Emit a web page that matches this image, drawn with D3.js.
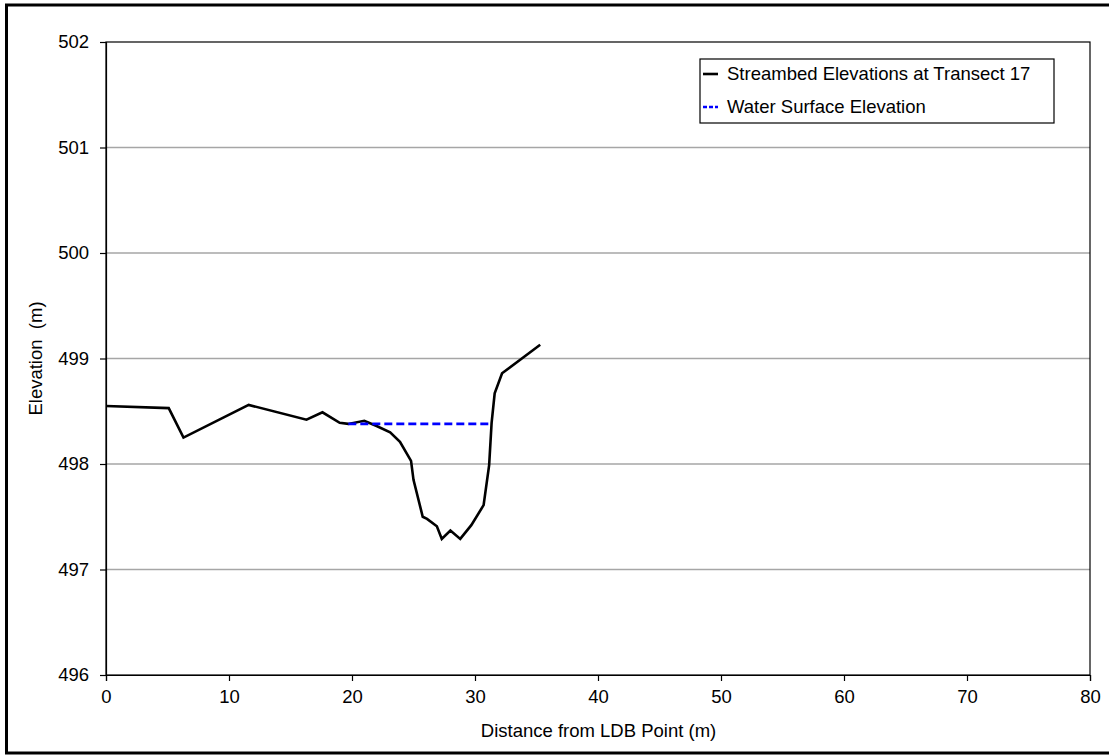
<!DOCTYPE html>
<html><head><meta charset="utf-8">
<script src="https://cdn.jsdelivr.net/npm/d3@7"></script>
<style>html,body{margin:0;padding:0;background:#fff;}svg{display:block;font-family:"Liberation Sans",Arial,sans-serif;}</style>
</head><body>
<svg id="chart" width="1109" height="755"></svg>
<script>
const distance = [0, 5.1, 6.3, 11.6, 16.3, 17.6, 19.0, 19.7, 21.0, 22.0, 23.1, 23.9, 24.8, 25.0, 25.75, 26.1, 26.9, 27.3, 28.0, 28.8, 29.7, 30.7, 31.15, 31.35, 31.6, 32.2, 35.3];
const elevation = [498.55, 498.53, 498.25, 498.56, 498.42, 498.49, 498.39, 498.38, 498.41, 498.36, 498.30, 498.21, 498.03, 497.85, 497.50, 497.48, 497.41, 497.29, 497.37, 497.29, 497.42, 497.61, 497.99, 498.39, 498.67, 498.86, 499.13];
const waterDistance = [19.7, 31.3];
const waterElevation = [498.38, 498.38];
const xTicks = [0, 10, 20, 30, 40, 50, 60, 70, 80];
const yTicks = [496, 497, 498, 499, 500, 501, 502];
const seriesNames = ["Streambed Elevations at Transect 17", "Water Surface Elevation"];

(function () {
const svg = d3.select("#chart");
const pL = 106, pR = 1090, pT = 42, pB = 675;
const x = d3.scaleLinear().domain([0, 80]).range([pL, pR]);
const y = d3.scaleLinear().domain([496, 502]).range([pB, pT]);
const FS = 18.5;

// outer border
svg.append("rect").attr("x", 6.5).attr("y", 5).attr("width", 1120).attr("height", 748)
  .attr("fill", "none").attr("stroke", "#000").attr("stroke-width", 3);

// gridlines
svg.append("g").selectAll("line").data(yTicks.filter(d => d > 496 && d < 502)).join("line")
  .attr("x1", pL).attr("x2", pR).attr("y1", d => y(d)).attr("y2", d => y(d))
  .attr("stroke", "#a6a6a6").attr("stroke-width", 1.5);

// plot frame
svg.append("rect").attr("x", pL).attr("y", pT).attr("width", pR - pL).attr("height", pB - pT)
  .attr("fill", "none").attr("stroke", "#000").attr("stroke-width", 1.2);

// axes
const xAxis = d3.axisBottom(x).tickValues(xTicks).tickSize(6).tickPadding(9).tickFormat(d3.format("d"));
const gx = svg.append("g").attr("transform", `translate(0,${pB})`).call(xAxis);
const yAxis = d3.axisLeft(y).tickValues(yTicks).tickSize(6).tickPadding(11).tickFormat(d3.format("d"));
const gy = svg.append("g").attr("transform", `translate(${pL},0)`).call(yAxis);
[gx, gy].forEach(g => {
  g.select(".domain").attr("stroke", "#000").attr("stroke-width", 1.2);
  g.selectAll(".tick line").attr("stroke", "#000").attr("stroke-width", 1.2);
  g.selectAll(".tick text").attr("fill", "#000").style("font-size", FS + "px").style("font-family", '"Liberation Sans",Arial,sans-serif');
});

// axis titles
svg.append("text").attr("x", (pL + pR) / 2 + 0.5).attr("y", 737).attr("text-anchor", "middle")
  .style("font-size", FS + "px").text("Distance from LDB Point (m)");
svg.append("text").attr("transform", `translate(42,${(pT + pB) / 2}) rotate(-90)`).attr("text-anchor", "middle")
  .style("font-size", FS + "px").style("white-space", "pre").text("Elevation  (m)");

// series
const line = d3.line().x(d => x(d[0])).y(d => y(d[1]));
svg.append("path").datum(distance.map((d, i) => [d, elevation[i]]))
  .attr("d", line).attr("fill", "none").attr("stroke", "#000").attr("stroke-width", 2.6).attr("stroke-linejoin", "miter");
svg.append("path").datum(waterDistance.map((d, i) => [d, waterElevation[i]]))
  .attr("d", line).attr("fill", "none").attr("stroke", "#0000ff").attr("stroke-width", 2.6).attr("stroke-dasharray", "8,4");

// legend
const lg = svg.append("g");
lg.append("rect").attr("x", 700).attr("y", 59).attr("width", 354).attr("height", 64)
  .attr("fill", "#fff").attr("stroke", "#000").attr("stroke-width", 1.2);
const rows = [74, 107];
lg.append("line").attr("x1", 703).attr("x2", 718).attr("y1", rows[0]).attr("y2", rows[0]).attr("stroke", "#000").attr("stroke-width", 2.6);
lg.append("line").attr("x1", 703).attr("x2", 718).attr("y1", rows[1]).attr("y2", rows[1]).attr("stroke", "#0000ff").attr("stroke-width", 2.6).attr("stroke-dasharray", "4,2");
seriesNames.forEach((s, i) => {
  lg.append("text").attr("x", 727).attr("y", rows[i]).attr("dy", "0.35em").style("font-size", FS + "px").text(s);
});
})();
</script>
</body></html>
